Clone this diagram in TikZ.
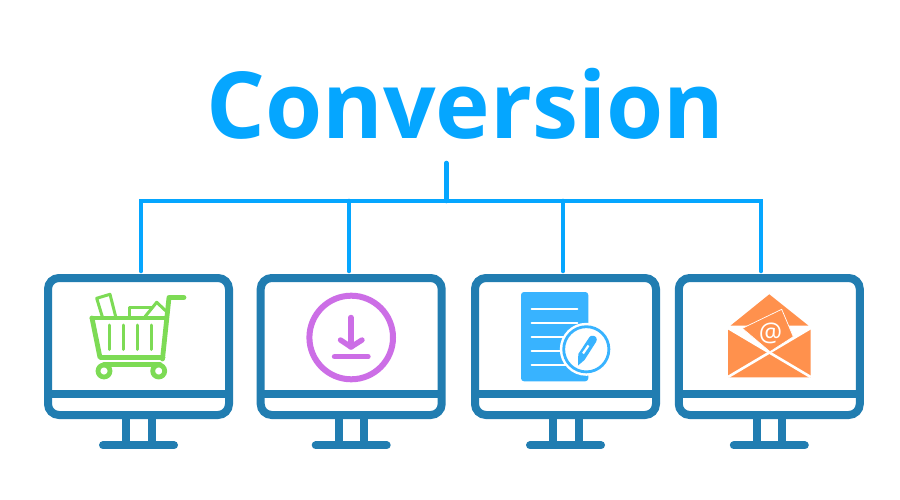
\documentclass[tikz,border=0pt]{standalone}
\usepackage{fontspec}
\setmainfont{Open Sans}
\definecolor{wire}{HTML}{05A6FF}
\definecolor{screen}{HTML}{217DB1}
\definecolor{cartc}{HTML}{7DDB55}
\definecolor{dlc}{HTML}{CC6EE6}
\definecolor{docc}{HTML}{38B3FF}
\definecolor{envc}{HTML}{FF914D}
\tikzset{
  x=1pt,y=-1pt,
  wireline/.style={wire,line width=4.6pt,line cap=round,line join=miter},
  frame/.style={draw=screen,line width=8pt,rounded corners=11pt,minimum width=181pt,minimum height=137pt,inner sep=0pt,outer sep=4pt,shape=rectangle},
  monline/.style={screen,line width=8pt},
  cartline/.style={cartc,line width=4.8pt,line join=round,line cap=round},
  cartthin/.style={cartc,line width=3pt,line join=round,line cap=round},
  dlline/.style={dlc,line width=5.4pt,line join=round,line cap=round},
  docline/.style={white,line width=2pt,line cap=round},
  envcut/.style={white,line width=2.6pt},
}
\newcommand{\monitorparts}[2]{%
  \draw[monline] (#2-90,393.5) -- (#2+90,393.5);
  \draw[monline] (#2+125.8-138.5,418) -- (#2+125.8-138.5,445);
  \draw[monline] (#2+151.5-138.5,418) -- (#2+151.5-138.5,445);
  \draw[monline,line cap=round] (#2+103-138.5,445.3) -- (#2+174-138.5,445.3);
}
\begin{document}
\begin{tikzpicture}
\useasboundingbox (0,0) rectangle (900,500);
\fill[white] (0,0) rectangle (900,500);
\node[text=wire,font=\fontsize{92.5}{92.5}\selectfont\bfseries,anchor=base,inner sep=0pt] (title) at (465.5,138.5) {Conversion};
% monitors
\node[frame] (m1) at (138.5,346.5) {};
\node[frame] (m2) at (351.2,346.5) {};
\node[frame] (m3) at (565.5,346.5) {};
\node[frame] (m4) at (769.3,346.5) {};
\monitorparts{m1}{138.5}
\monitorparts{m2}{351.2}
\monitorparts{m3}{565.5}
\monitorparts{m4}{769.3}
% connectors
\coordinate (hub) at (446.4,201);
\coordinate (stub) at (446.4,163);
\coordinate (left) at (141,201);
\coordinate (right) at (761,201);
\coordinate (j2) at (349,201);
\coordinate (j3) at (563,201);
\coordinate (e1) at (141,271);
\coordinate (e2) at (349,271);
\coordinate (e3) at (563,271);
\coordinate (e4) at (761,271);
\draw[wireline] (stub) -- (hub);
\draw[wireline] (e1) -- (left) -- (right) -- (e4);
\draw[wireline] (j2) -- (e2);
\draw[wireline] (j3) -- (e3);
% cart
\draw[cartline] (184,297.5) -- (169,297.5) -- (162.5,359);
\draw[cartline] (92,318) -- (165,318);
\draw[cartline] (92,318) -- (100,357.5) -- (163,357.5);
\draw[cartline] (104,364.5) -- (160,364.5);
\draw[cartline] (104,371) circle (6);
\draw[cartline] (158.7,371) circle (6);
\foreach \bx in {109.3,123.3,137.3,151.3}
  \draw[cartthin] (\bx,325) -- (\bx,349.5);
\draw[cartthin] (102.3,316.7) -- (96.7,298.3) -- (110,294.3) -- (115.7,316.7);
\draw[cartthin] (129.3,316.7) -- (129.3,307) -- (152,307);
\draw[cartthin] (145,316.7) -- (156.7,302.3) -- (167,312);
% download
\draw[dlc,line width=6pt] (351.2,337.5) circle (41.8);
\draw[dlline] (351,317.5) -- (351,347);
\draw[dlline] (340.5,340) -- (351,347) -- (362,340);
\draw[dlline] (334.5,356.7) -- (368,356.7);
% document
\fill[docc,rounded corners=3pt] (521,292) rectangle (588.3,381.3);
\foreach \ly in {308.7,322.7,336.7,350.7,364.7}
  \draw[docline] (531.7,\ly) -- (577.3,\ly);
\fill[white] (586.3,349.3) circle (26.5);
\draw[docc,line width=2.8pt] (586.3,349.3) circle (22.6);
\fill[docc] (578,365.5) -- (578.3,354) -- (589.5,337) .. controls (591,335) and (595,335.5) .. (596.2,337.5) .. controls (597,339) and (597,340.5) .. (596,342) -- (584.5,360) -- cycle;
\draw[white,line width=2.2pt] (583,353.5) -- (588.5,345.5);
% envelope
\fill[envc] (769.3,294.3) -- (808.3,325.5) -- (730.7,325.5) -- cycle;
\fill[envc] (728,329) -- (769.3,353.5) -- (810.7,329) -- (810.7,377.3) -- (728,377.3) -- cycle;
\draw[envcut] (728,328) -- (810.7,377);
\draw[envcut] (810.7,328) -- (728,377);
\fill[envc,draw=white,line width=0.7pt] (742.3,328.3) -- (781.7,309.3) -- (793.3,336.7) -- (770,351.7) -- cycle;
\node[text=white,font=\fontsize{26}{26}\selectfont,inner sep=0pt] (at) at (770.5,333) {@};
\end{tikzpicture}
\end{document}
